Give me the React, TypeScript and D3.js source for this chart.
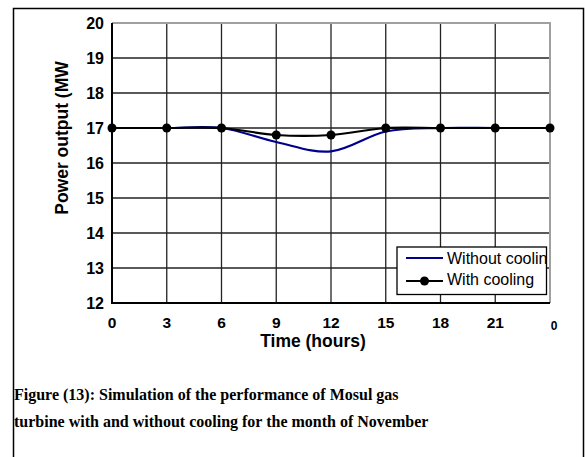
import React from "react";
import * as d3 from "d3";

const hours = [0, 3, 6, 9, 12, 15, 18, 21, 24];
const withoutCooling = [17, 17, 17, 16.6, 16.33, 16.9, 17, 17, 17];
const withCooling = [17, 17, 17, 16.8, 16.8, 17, 17, 17, 17];
const yTicks = [12, 13, 14, 15, 16, 17, 18, 19, 20];
const xTickLabels = ["0", "3", "6", "9", "12", "15", "18", "21", "0"];
const seriesNames = ["Without cooling", "With cooling"];
const captionLines = [
  "Figure (13): Simulation of the performance of Mosul gas",
  "turbine with and without cooling for the month of November",
];

const W = 585;
const H = 457;
const plot = { left: 112, top: 23, right: 550, bottom: 303 };

export default function App() {
  const x = d3.scaleLinear().domain([0, 24]).range([plot.left, plot.right]);
  const y = d3.scaleLinear().domain([12, 20]).range([plot.bottom, plot.top]);
  const curve = d3.curveCardinal.tension(0);
  const line = d3
    .line<number>()
    .x((_, i) => x(hours[i]))
    .y((d) => y(d))
    .curve(curve);

  const arial = "Arial, 'Liberation Sans', sans-serif";
  const times = "'Times New Roman', 'Liberation Serif', serif";

  return (
    <svg
      width={W}
      height={H}
      style={{ position: "absolute", left: 0, top: 0, background: "#fff" }}
    >
      <defs>
        <clipPath id="legclip">
          <rect x={397} y={247} width={149} height={47} />
        </clipPath>
      </defs>
      {/* outer frame */}
      <path d={`M13.5,${H + 2} V8.5 H583.5 V${H + 2}`} fill="none" stroke="#000" strokeWidth={1.5} />

      {/* grid */}
      {yTicks.slice(1).map((t) => (
        <line key={"h" + t} x1={plot.left} x2={plot.right} y1={y(t)} y2={y(t)} stroke="#222" strokeWidth={1.3} />
      ))}
      {hours.slice(1, -1).map((h) => (
        <line key={"v" + h} x1={x(h)} x2={x(h)} y1={plot.top} y2={plot.bottom} stroke="#222" strokeWidth={1.3} />
      ))}
      {/* plot border top/right grey */}
      <path d={`M${plot.left},${plot.top} H${plot.right} V${plot.bottom}`} fill="none" stroke="#a0a0a0" strokeWidth={2} />
      {/* axes */}
      <path d={`M${plot.left},${plot.top} V${plot.bottom} H${plot.right}`} fill="none" stroke="#000" strokeWidth={2} />

      {/* y tick labels */}
      {yTicks.map((t) => (
        <text key={"yl" + t} x={104} y={y(t)} dy="0.36em" textAnchor="end" fontFamily={arial} fontWeight="bold" fontSize={16}>
          {t}
        </text>
      ))}
      {/* x tick labels */}
      {hours.map((h, i) =>
        i < hours.length - 1 ? (
          <text key={"xl" + i} x={x(h)} y={322} dy="0.36em" textAnchor="middle" fontFamily={arial} fontWeight="bold" fontSize={15.5}>
            {xTickLabels[i]}
          </text>
        ) : (
          <text key={"xl" + i} x={x(h) + 4} y={325.5} dy="0.36em" textAnchor="middle" fontFamily={arial} fontWeight="bold" fontSize={12}>
            {xTickLabels[i]}
          </text>
        )
      )}

      {/* axis titles */}
      <text x={313} y={340.5} dy="0.36em" textAnchor="middle" fontFamily={arial} fontWeight="bold" fontSize={17.5}>
        Time (hours)
      </text>
      <text
        transform={`translate(62,138) rotate(-90)`}
        dy="0.36em"
        textAnchor="middle"
        fontFamily={arial}
        fontWeight="bold"
        fontSize={17.5}
      >
        Power output (MW
      </text>

      {/* series */}
      <path d={line(withoutCooling) || ""} fill="none" stroke="#00008c" strokeWidth={2.2} />
      <path d={line(withCooling) || ""} fill="none" stroke="#000" strokeWidth={2.2} />
      {withCooling.map((v, i) => (
        <circle key={"m" + i} cx={x(hours[i])} cy={y(v)} r={4.5} fill="#000" />
      ))}

      {/* legend */}
      <rect x={397} y={247} width={149.5} height={47.5} fill="#fff" stroke="#000" strokeWidth={1.3} />
      <line x1={406} x2={443} y1={258} y2={258} stroke="#00008c" strokeWidth={2.2} />
      <line x1={406} x2={443} y1={281} y2={281} stroke="#000" strokeWidth={2.2} />
      <circle cx={424.5} cy={281} r={4.5} fill="#000" />
      <g clipPath="url(#legclip)">
        <text x={447} y={258} dy="0.36em" fontFamily={arial} fontSize={16}>
          {seriesNames[0]}
        </text>
        <text x={447} y={279} dy="0.36em" fontFamily={arial} fontSize={16}>
          {seriesNames[1]}
        </text>
      </g>

      {/* caption */}
      {captionLines.map((c, i) => (
        <text key={"c" + i} x={14} y={399.5 + i * 27.5} fontFamily={times} fontWeight="bold" fontSize={16}>
          {c}
        </text>
      ))}
    </svg>
  );
}
